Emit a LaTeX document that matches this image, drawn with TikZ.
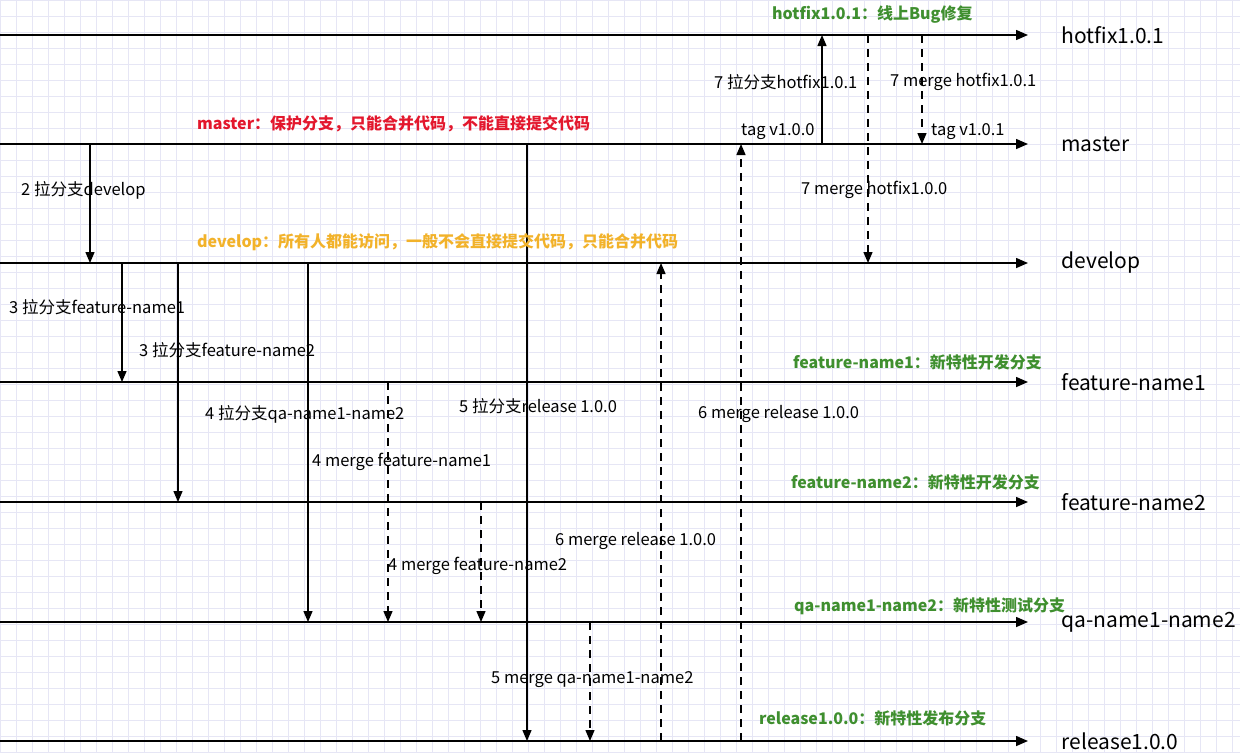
\documentclass[tikz,border=0pt]{standalone}
\usepackage{fontspec}
\setmainfont{Noto Sans CJK SC}
\usetikzlibrary{arrows.meta}
\definecolor{gridc}{HTML}{E6E6F5}
\definecolor{gr}{HTML}{3F8F2F}
\definecolor{rd}{HTML}{E3172D}
\definecolor{og}{HTML}{F2B22A}
\begin{document}
\begin{tikzpicture}[x=1pt,y=-1pt,
  br/.style={line width=1.5pt,-{Triangle[width=10pt,length=12pt]}},
  sv/.style={line width=1.4pt,-{Triangle[width=9pt,length=11pt]}},
  dv/.style={sv,dash pattern=on 8pt off 6pt},
  lb/.style={anchor=west,font=\fontsize{16.5}{18}\selectfont,inner sep=1pt},
  cl/.style={lb,font=\fontsize{16}{18}\selectfont\bfseries},
  nm/.style={anchor=west,font=\fontsize{21}{24}\selectfont}]
\useasboundingbox (0,0) rectangle (1240,753);
\fill[white] (0,0) rectangle (1240,753);
\foreach \i in {0,16,...,1240} \draw[gridc,line width=0.6pt] (\i,0) -- (\i,753);
\foreach \i in {0,16,...,753} \draw[gridc,line width=0.6pt] (0,\i) -- (1240,\i);
% branch lines
\foreach \n/\y/\t in {h/35/hotfix1.0.1,m/144/master,d/263/develop,f1/382/feature-name1,f2/502/feature-name2,q/622/qa-name1-name2,r/741/release1.0.0}{
  \coordinate (\n s) at (0,\y);
  \coordinate (\n e) at (1028,\y);
  \draw[br] (\n s) -- (\n e);
  \node[nm] (\n l) at (1058,\y) {\t};
}
% vertical connectors
\foreach \n/\x/\a/\b/\s in {a/90/144/263/sv,b/122/263/382/sv,c/178/263/502/sv,d/308/263/622/sv,e/388/382/622/dv,f/481/502/622/dv,g/527/144/741/sv,h/590/622/741/dv,i/661/741/263/dv,j/741/741/144/dv,k/822/144/35/sv,l/868/35/263/dv,m/922/35/144/dv}{
  \coordinate (\n1) at (\x,\a);
  \coordinate (\n2) at (\x,\b);
  \draw[\s] (\n1) -- (\n2);
}
% labels
\node[cl,text=gr] (t1) at (771,15) {hotfix1.0.1：线上Bug修复};
\node[lb] (t2) at (713,82) {7 拉分支hotfix1.0.1};
\node[lb] (t3) at (889,82) {7 merge hotfix1.0.1};
\node[lb] (t4) at (740,132) {tag v1.0.0};
\node[lb] (t5) at (930,132) {tag v1.0.1};
\node[cl,text=rd] (t6) at (196,124) {master：保护分支，只能合并代码，不能直接提交代码};
\node[lb] (t7) at (20,190) {2 拉分支develop};
\node[lb] (t8) at (800,190) {7 merge hotfix1.0.0};
\node[cl,text=og] (t9) at (196,242) {develop：所有人都能访问，一般不会直接提交代码，只能合并代码};
\node[lb] (t10) at (8,307) {3 拉分支feature-name1};
\node[lb] (t11) at (138,350) {3 拉分支feature-name2};
\node[cl,text=gr] (t12) at (792,362) {feature-name1：新特性开发分支};
\node[lb] (t13) at (204,414) {4 拉分支qa-name1-name2};
\node[lb] (t14) at (458,406) {5 拉分支release 1.0.0};
\node[lb] (t15) at (697,414) {6 merge release 1.0.0};
\node[lb] (t16) at (311,462) {4 merge feature-name1};
\node[cl,text=gr] (t17) at (790,482) {feature-name2：新特性开发分支};
\node[lb] (t18) at (554,541) {6 merge release 1.0.0};
\node[lb] (t19) at (387,566) {4 merge feature-name2};
\node[cl,text=gr] (t20) at (793,606) {qa-name1-name2：新特性测试分支};
\node[lb] (t21) at (490,680) {5 merge qa-name1-name2};
\node[cl,text=gr] (t22) at (758,718) {release1.0.0：新特性发布分支};
\end{tikzpicture}
\end{document}
